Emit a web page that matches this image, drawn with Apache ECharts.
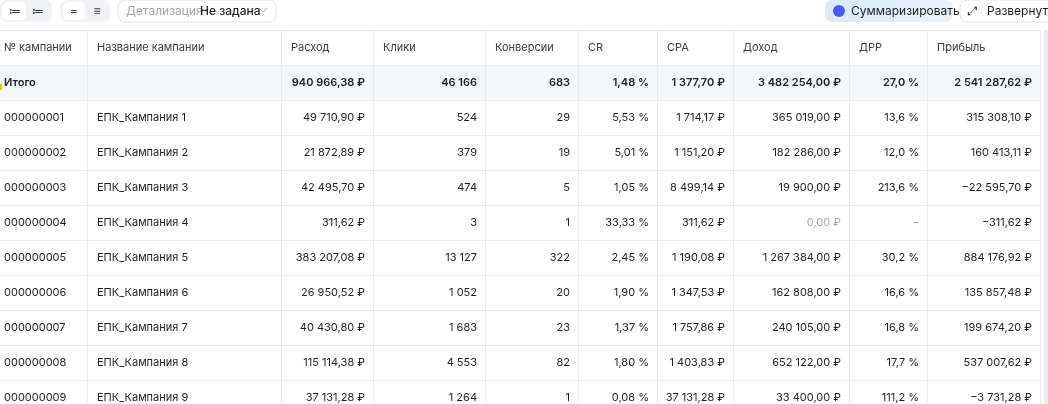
<!DOCTYPE html><html><head><meta charset="utf-8">
<script src="https://cdn.jsdelivr.net/npm/echarts@6/dist/echarts.min.js"></script>
<style>html,body{margin:0;padding:0;background:#fff}#c{width:1048px;height:404px}</style></head><body><div id="c"></div>
<script>
const headers=["№ кампании","Название кампании","Расход","Клики","Конверсии","CR","CPA","Доход","ДРР","Прибыль"];
const totals=["Итого","","940 966,38 ₽","46 166","683","1,48 %","1 377,70 ₽","3 482 254,00 ₽","27,0 %","2 541 287,62 ₽"];
const ids=["000000001","000000002","000000003","000000004","000000005","000000006","000000007","000000008","000000009"];
const names=["ЕПК_Кампания 1","ЕПК_Кампания 2","ЕПК_Кампания 3","ЕПК_Кампания 4","ЕПК_Кампания 5","ЕПК_Кампания 6","ЕПК_Кампания 7","ЕПК_Кампания 8","ЕПК_Кампания 9"];
const spend=["49 710,90 ₽","21 872,89 ₽","42 495,70 ₽","311,62 ₽","383 207,08 ₽","26 950,52 ₽","40 430,80 ₽","115 114,38 ₽","37 131,28 ₽"];
const clicks=["524","379","474","3","13 127","1 052","1 683","4 553","1 264"];
const convs=["29","19","5","1","322","20","23","82","1"];
const cr=["5,53 %","5,01 %","1,05 %","33,33 %","2,45 %","1,90 %","1,37 %","1,80 %","0,08 %"];
const cpa=["1 714,17 ₽","1 151,20 ₽","8 499,14 ₽","311,62 ₽","1 190,08 ₽","1 347,53 ₽","1 757,86 ₽","1 403,83 ₽","37 131,28 ₽"];
const income=["365 019,00 ₽","182 286,00 ₽","19 900,00 ₽","0,00 ₽","1 267 384,00 ₽","162 808,00 ₽","240 105,00 ₽","652 122,00 ₽","33 400,00 ₽"];
const drr=["13,6 %","12,0 %","213,6 %","–","30,2 %","16,6 %","16,8 %","17,7 %","111,2 %"];
const profit=["315 308,10 ₽","160 413,11 ₽","−22 595,70 ₽","−311,62 ₽","884 176,92 ₽","135 857,48 ₽","199 674,20 ₽","537 007,62 ₽","−3 731,28 ₽"];
const colX=[0,87,281,373,485,578,657,733,849,927,1040];
const F='Inter, "Noto Sans", sans-serif';
const g=[];
const top0=30,rh=35;
const rows=[headers,totals];
for(let i=0;i<ids.length;i++)rows.push([ids[i],names[i],spend[i],clicks[i],convs[i],cr[i],cpa[i],income[i],drr[i],profit[i]]);
// total row bg
g.push({type:'rect',shape:{x:0,y:top0+rh,width:1040,height:rh},style:{fill:'#f6f7fa'}});
rows.forEach((r,ri)=>{
  const y=top0+ri*rh;
  g.push({type:'rect',shape:{x:0,y:y+rh,width:1040,height:1},style:{fill:'#e9ebef'}});
  r.forEach((t,ci)=>{
    const right=ri>0&&ci>=2;
    let color='#1f2023';
    if(ri===0)color='#3b3e45';
    if(ri>1&&ci===7&&t==='0,00 ₽')color='#a9adb8';
    if(ri>1&&ci===8&&t==='–')color='#a9adb8';
    g.push({type:'text',x:right?colX[ci+1]-8:colX[ci]+4+(ci===0?0:6),y:y+rh/2,
      style:{text:t,font:(ri===1?'600 ':'400 ')+'11px '+F,fill:color,align:right?'right':'left',verticalAlign:'middle'}});
  });
});
g.push({type:'rect',shape:{x:0,y:top0,width:1040,height:1},style:{fill:'#e9ebef'}});
for(let i=1;i<colX.length;i++)g.push({type:'rect',shape:{x:colX[i],y:top0,width:1,height:404-top0},style:{fill:'#e9ebef'}});
g.push({type:'rect',shape:{x:1044,y:top0,width:4,height:374},style:{fill:'#eceef1'}});
// toolbar
g.push({type:'rect',shape:{x:0,y:0,width:52,height:22,r:7},style:{fill:'#f1f2f5'}});
g.push({type:'rect',shape:{x:2,y:2,width:24,height:18,r:5},style:{fill:'#fff'}});
g.push({type:'rect',shape:{x:60,y:0,width:50,height:22,r:7},style:{fill:'#f1f2f5'}});
g.push({type:'rect',shape:{x:63,y:2,width:22,height:18,r:5},style:{fill:'#fff'}});
[['≔',15],['≔',38],['=',74],['≡',97]].forEach(a=>g.push({type:'text',x:a[1],y:11,style:{text:a[0],font:'12px '+F,fill:'#333',align:'center',verticalAlign:'middle'}}));
g.push({type:'rect',shape:{x:118,y:0,width:158,height:22,r:7},style:{fill:'#fff',stroke:'#dfe1e6',lineWidth:1}});
g.push({type:'text',x:126,y:11,style:{text:'Детализация',font:'12px '+F,fill:'#a3a7b1',verticalAlign:'middle'}});
g.push({type:'text',x:200,y:11,style:{text:'Не задана',font:'500 12px '+F,fill:'#1f2023',verticalAlign:'middle'}});
g.push({type:'polyline',shape:{points:[[259,8],[263,12],[267,8]]},style:{stroke:'#a3a7b1',lineWidth:1,fill:null}});
g.push({type:'rect',shape:{x:825,y:0,width:128,height:22,r:7},style:{fill:new echarts.graphic.LinearGradient(0,0,1,0,[{offset:0,color:'#dbeafc'},{offset:1,color:'#e6f3fb'}])}});
g.push({type:'circle',shape:{cx:839,cy:11,r:6},style:{fill:'#4b5cf0'}});
g.push({type:'text',x:851,y:11,style:{text:'Суммаризировать',font:'12px '+F,fill:'#1f2023',verticalAlign:'middle'}});
g.push({type:'rect',shape:{x:960,y:0,width:100,height:22,r:7},style:{fill:'#fff',stroke:'#dfe1e6',lineWidth:1}});
g.push({type:'text',x:968,y:11,style:{text:'⤢',font:'12px '+F,fill:'#1f2023',verticalAlign:'middle'}});
g.push({type:'text',x:987,y:11,style:{text:'Развернуть',font:'12px '+F,fill:'#1f2023',verticalAlign:'middle'}});
g.push({type:'rect',shape:{x:0,y:84,width:2,height:6},style:{fill:'#f5b800'}});
const ch=echarts.init(document.getElementById('c'));
ch.setOption({animation:false,graphic:g});
</script></body></html>
